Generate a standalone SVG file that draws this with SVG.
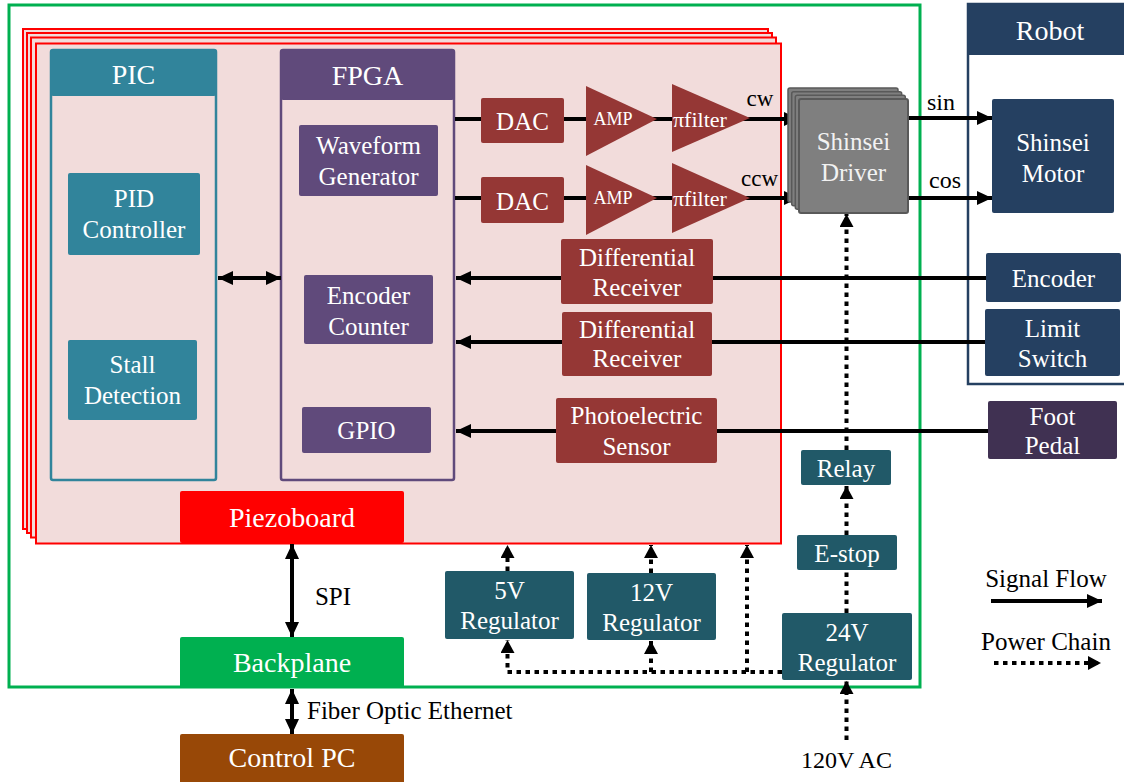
<svg xmlns="http://www.w3.org/2000/svg" width="1124" height="782" viewBox="0 0 1124 782" font-family="'Liberation Serif', 'DejaVu Serif', serif">
<style>
text{font-family:'Liberation Serif','DejaVu Serif',serif;text-anchor:middle}
.w{fill:#fff;font-size:25px}
.h{fill:#fff;font-size:28px}
.k{fill:#000;font-size:25px}
.board{fill:#F2DCDB;stroke:#FF0000;stroke-width:2}
.red{fill:#953735}
.teal{fill:#215968}
.sig{stroke:#000;stroke-width:4;fill:none}
.pow{stroke:#000;stroke-width:4;fill:none;stroke-dasharray:4.5 4.5}
</style>
<defs>
<marker id="ah" markerUnits="userSpaceOnUse" markerWidth="16" markerHeight="16" refX="15" refY="7" orient="auto-start-reverse" viewBox="0 0 16 16">
<path d="M0,0 L15,7 L0,14 z" fill="#000"/>
</marker>
<marker id="ap" markerUnits="userSpaceOnUse" markerWidth="16" markerHeight="16" refX="13" refY="7" orient="auto" viewBox="0 0 16 16">
<path d="M0,0 L13,7 L0,14 z" fill="#000"/>
</marker>
</defs>

<g id="enclosure">
<rect x="9" y="5" width="911" height="682" fill="none" stroke="#00B050" stroke-width="3"/>
</g>

<g id="piezoboard-stack">
<rect class="board" x="23" y="29" width="745" height="500"/>
<rect class="board" x="27" y="33" width="745" height="500"/>
<rect class="board" x="31" y="37.5" width="745" height="500"/>
<rect class="board" x="36" y="43.5" width="745" height="500" stroke-width="3"/>
</g>

<g id="pic">
<rect x="51" y="50" width="165" height="430" rx="2" fill="none" stroke="#31849B" stroke-width="2.5"/>
<rect x="51" y="50" width="165" height="46" rx="2" fill="#31849B"/>
<text class="h" x="133.5" y="84">PIC</text>
</g>
<g id="pid">
<rect x="68" y="173" width="132" height="82" rx="2" fill="#31849B"/>
<text class="w" x="134" y="207">PID</text>
<text class="w" x="134" y="238">Controller</text>
</g>
<g id="stall">
<rect x="68" y="340" width="129" height="80" rx="2" fill="#31849B"/>
<text class="w" x="132.5" y="373">Stall</text>
<text class="w" x="132.5" y="404">Detection</text>
</g>

<g id="fpga">
<rect x="281" y="50" width="173" height="430" rx="2" fill="none" stroke="#604A7B" stroke-width="2.5"/>
<rect x="281" y="50" width="173" height="50" rx="2" fill="#604A7B"/>
<text class="h" x="367.5" y="85">FPGA</text>
</g>
<g id="waveform">
<rect x="299" y="125" width="139" height="71" rx="2" fill="#604A7B"/>
<text class="w" x="368.5" y="154">Waveform</text>
<text class="w" x="368.5" y="185">Generator</text>
</g>
<g id="encoder-counter">
<rect x="304" y="275" width="129" height="69" rx="2" fill="#604A7B"/>
<text class="w" x="368.5" y="304">Encoder</text>
<text class="w" x="368.5" y="335">Counter</text>
</g>
<g id="gpio">
<rect x="302" y="407" width="129" height="46" rx="2" fill="#604A7B"/>
<text class="w" x="366.5" y="439">GPIO</text>
</g>

<g id="piezoboard-label">
<rect x="180" y="491" width="224" height="52" rx="2" fill="#FF0000"/>
<text class="h" x="292" y="527">Piezoboard</text>
</g>
<g id="backplane">
<rect x="180" y="637" width="224" height="51" rx="2" fill="#00B050"/>
<text class="h" x="292" y="672">Backplane</text>
</g>
<g id="control-pc">
<rect x="180" y="734" width="224" height="52" rx="2" fill="#984807"/>
<text class="h" x="292" y="767">Control PC</text>
</g>

<g id="robot">
<rect x="968" y="4" width="170" height="380" fill="none" stroke="#254061" stroke-width="2.5"/>
<rect x="968" y="4" width="170" height="51" fill="#254061"/>
<text class="h" x="1050" y="40">Robot</text>
</g>
<g id="shinsei-motor">
<rect x="992" y="99" width="122" height="114" rx="2" fill="#254061"/>
<text class="w" x="1053" y="151">Shinsei</text>
<text class="w" x="1053" y="182">Motor</text>
</g>
<g id="encoder">
<rect x="986" y="253" width="135" height="49" rx="2" fill="#254061"/>
<text class="w" x="1053.5" y="287">Encoder</text>
</g>
<g id="limit-switch">
<rect x="985" y="309" width="135" height="67" rx="2" fill="#254061"/>
<text class="w" x="1052.5" y="337">Limit</text>
<text class="w" x="1052.5" y="367">Switch</text>
</g>
<g id="foot-pedal">
<rect x="988" y="401" width="129" height="58" rx="2" fill="#403152"/>
<text class="w" x="1052.5" y="425">Foot</text>
<text class="w" x="1052.5" y="454">Pedal</text>
</g>

<g id="connectors">
<line class="sig" x1="455" y1="119" x2="799" y2="119" marker-end="url(#ah)"/>
<line class="sig" x1="455" y1="198" x2="799" y2="198" marker-end="url(#ah)"/>
<line class="sig" x1="908" y1="118" x2="992" y2="118" marker-end="url(#ah)"/>
<line class="sig" x1="908" y1="198" x2="992" y2="198" marker-end="url(#ah)"/>
<line class="sig" x1="986" y1="278" x2="456" y2="278" marker-end="url(#ah)"/>
<line class="sig" x1="985" y1="342" x2="456" y2="342" marker-end="url(#ah)"/>
<line class="sig" x1="988" y1="431" x2="456" y2="431" marker-end="url(#ah)"/>
<line class="sig" x1="218" y1="278" x2="281" y2="278" marker-start="url(#ah)" marker-end="url(#ah)"/>
<line class="sig" x1="292" y1="544" x2="292" y2="637" marker-start="url(#ah)" marker-end="url(#ah)"/>
<line class="sig" x1="292" y1="689" x2="292" y2="734" marker-start="url(#ah)" marker-end="url(#ah)"/>
<line class="pow" x1="846.5" y1="450" x2="846.5" y2="214" marker-end="url(#ap)"/>
<line class="pow" x1="846.5" y1="535" x2="846.5" y2="486" marker-end="url(#ap)"/>
<line class="pow" x1="846.5" y1="613" x2="846.5" y2="570"/>
<line class="pow" x1="846.5" y1="740" x2="846.5" y2="681" marker-end="url(#ap)"/>
<polyline class="pow" points="782,672 507.5,672 507.5,640" marker-end="url(#ap)"/>
<line class="pow" x1="651" y1="672" x2="651" y2="641" marker-end="url(#ap)"/>
<line class="pow" x1="747" y1="672" x2="747" y2="545" marker-end="url(#ap)"/>
<line class="pow" x1="507.5" y1="571" x2="507.5" y2="545" marker-end="url(#ap)"/>
<line class="pow" x1="651" y1="573" x2="651" y2="545" marker-end="url(#ap)"/>
<line class="sig" x1="991" y1="601" x2="1102" y2="601" marker-end="url(#ah)"/>
<line class="pow" x1="994" y1="663" x2="1101" y2="663" marker-end="url(#ap)"/>
</g>

<g id="dac1">
<rect class="red" x="481" y="98" width="83" height="45" rx="2"/>
<text class="w" x="522.5" y="130">DAC</text>
</g>
<g id="dac2">
<rect class="red" x="481" y="177" width="83" height="46" rx="2"/>
<text class="w" x="522.5" y="210">DAC</text>
</g>
<g id="amp1">
<polygon class="red" points="586,86 657,119 586,156"/>
<text x="613" y="125" style="fill:#fff;font-size:18px">AMP</text>
</g>
<g id="amp2">
<polygon class="red" points="586,165 657,198 586,235"/>
<text x="613" y="204" style="fill:#fff;font-size:18px">AMP</text>
</g>
<g id="filter1">
<polygon class="red" points="672,84 750,118 672,152"/>
<text x="673" y="127" style="fill:#fff;font-size:22px;text-anchor:start">πfilter</text>
</g>
<g id="filter2">
<polygon class="red" points="672,163 750,198 672,233"/>
<text x="673" y="206" style="fill:#fff;font-size:22px;text-anchor:start">πfilter</text>
</g>

<g id="shinsei-driver">
<rect x="788" y="88" width="110" height="114" rx="2" fill="#7F7F7F" stroke="#595959" stroke-width="1.5"/>
<rect x="791.7" y="91.7" width="110" height="114" rx="2" fill="#7F7F7F" stroke="#595959" stroke-width="1.5"/>
<rect x="795.3" y="95.3" width="110" height="114" rx="2" fill="#7F7F7F" stroke="#595959" stroke-width="1.5"/>
<rect x="799" y="99" width="109" height="114" rx="2" fill="#7F7F7F" stroke="#595959" stroke-width="2"/>
<text x="853.5" y="150" style="fill:#F2F2F2;font-size:25px">Shinsei</text>
<text x="853.5" y="181" style="fill:#F2F2F2;font-size:25px">Driver</text>
</g>

<g id="diff-receiver-1">
<rect class="red" x="561" y="239" width="152" height="65" rx="2"/>
<text class="w" x="637" y="266">Differential</text>
<text class="w" x="637" y="296">Receiver</text>
</g>
<g id="diff-receiver-2">
<rect class="red" x="562" y="312" width="150" height="64" rx="2"/>
<text class="w" x="637" y="338">Differential</text>
<text class="w" x="637" y="367">Receiver</text>
</g>
<g id="photoelectric">
<rect class="red" x="556" y="398" width="161" height="65" rx="2"/>
<text class="w" x="636.5" y="424">Photoelectric</text>
<text class="w" x="636.5" y="455">Sensor</text>
</g>

<g id="relay">
<rect class="teal" x="801" y="450" width="90" height="35" rx="2"/>
<text class="w" x="846" y="477">Relay</text>
</g>
<g id="estop">
<rect class="teal" x="797" y="535" width="100" height="35" rx="2"/>
<text class="w" x="847" y="562">E-stop</text>
</g>
<g id="reg5">
<rect class="teal" x="445" y="571" width="129" height="68" rx="2"/>
<text class="w" x="509.5" y="599">5V</text>
<text class="w" x="509.5" y="629">Regulator</text>
</g>
<g id="reg12">
<rect class="teal" x="587" y="573" width="129" height="67" rx="2"/>
<text class="w" x="651.5" y="601">12V</text>
<text class="w" x="651.5" y="631">Regulator</text>
</g>
<g id="reg24">
<rect class="teal" x="782" y="613" width="130" height="67" rx="2"/>
<text class="w" x="847" y="641">24V</text>
<text class="w" x="847" y="671">Regulator</text>
</g>

<g id="labels">
<text class="k" x="760" y="106" style="font-size:23px">cw</text>
<text class="k" x="759.5" y="186" style="font-size:23px">ccw</text>
<text class="k" x="941" y="110" style="font-size:24px">sin</text>
<text class="k" x="945" y="188" style="font-size:24px">cos</text>
<text class="k" x="333" y="605">SPI</text>
<text class="k" x="307" y="719" style="text-anchor:start">Fiber Optic Ethernet</text>
<text class="k" x="846.5" y="768" style="font-size:24px">120V AC</text>
<text class="k" x="1046" y="587">Signal Flow</text>
<text class="k" x="1046" y="650">Power Chain</text>
</g>
</svg>
